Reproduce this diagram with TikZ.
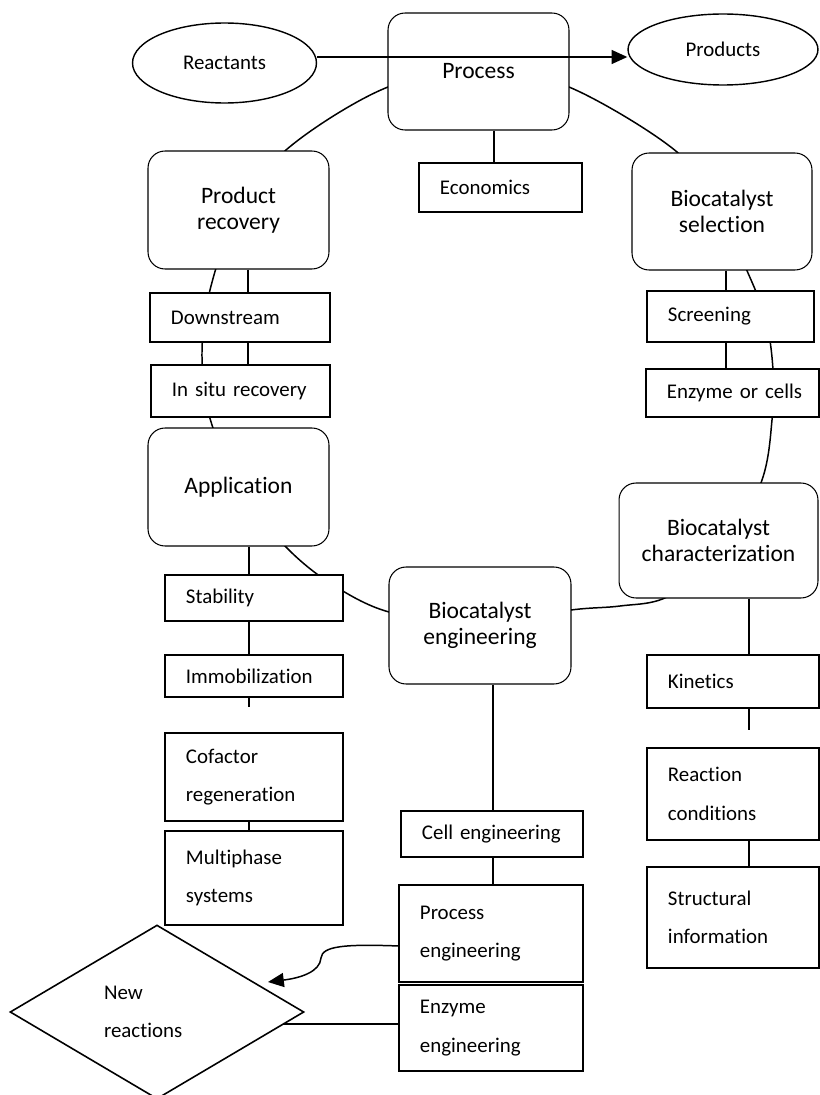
\documentclass[tikz,border=0pt]{standalone}
\usepackage{fontspec}
\setmainfont{Carlito}[Ligatures={NoCommon}]
\usetikzlibrary{shapes.geometric,arrows.meta,calc,backgrounds}
\begin{document}
\begin{tikzpicture}[x=0.02cm,y=-0.02cm,
  bigf/.style={font=\fontsize{13.4}{14.8}\selectfont},
  smf/.style={font=\fontsize{11.9}{22}\selectfont},
  rbox/.style={draw, line width=0.6pt, rounded corners=0.34cm, fill=white, align=center, bigf, inner sep=0pt},
  sbox/.style={draw, line width=1.1pt, fill=white, anchor=north west, align=left, smf, inner xsep=0.42cm, inner ysep=0pt},
  oval/.style={draw, ellipse, line width=0.8pt, fill=white, smf, inner sep=0pt},
  conn/.style={line width=0.85pt},
  tip/.style={-{Triangle[length=9pt,width=8pt]}}
]
\useasboundingbox (0,0) rectangle (819,1095);

% ellipses
\node[oval, minimum width=3.68cm, minimum height=1.6cm] (re) at (224.5,63) {Reactants};
\node[oval, minimum width=3.80cm, minimum height=1.42cm] (pr) at (723,49.5) {Products};

% rounded boxes
\node[rbox, minimum width=3.62cm, minimum height=2.34cm] (proc) at (478.5,71.5) {Process};
\node[rbox, minimum width=3.62cm, minimum height=2.36cm] (prodrec) at (238.5,210) {Product\\recovery};
\node[rbox, minimum width=3.60cm, minimum height=2.34cm] (biosel) at (722,211.5) {Biocatalyst\\selection};
\node[rbox, minimum width=3.62cm, minimum height=2.36cm] (app) at (238.5,487) {Application};
\node[rbox, minimum width=3.64cm, minimum height=2.34cm] (bioeng) at (480,625.5) {Biocatalyst\\engineering};
\node[rbox, minimum width=3.98cm, minimum height=2.30cm] (biochar) at (718.5,540.5) {Biocatalyst\\characterization};

% rectangles
\node[sbox, text width=2.42cm, minimum height=0.98cm] (econ) at (418,162) {Economics};
\node[sbox, text width=2.76cm, minimum height=0.98cm] (down) at (149,292) {Downstream};
\node[sbox, text width=2.74cm, minimum height=1.04cm] (insitu) at (150,364) {\mbox{In situ recovery}};
\node[sbox, text width=2.50cm, minimum height=1.02cm] (screen) at (646,290) {Screening};
\node[sbox, text width=2.62cm, minimum height=0.96cm] (enzcell) at (645,368) {\mbox{Enzyme or cells}};
\node[sbox, text width=2.72cm, minimum height=0.92cm] (stab) at (164,574) {Stability};
\node[sbox, text width=2.72cm, minimum height=0.84cm] (immob) at (164,654) {Immobilization};
\node[sbox, text width=2.72cm, minimum height=1.76cm] (cofac) at (164,732) {Cofactor\\regeneration};
\node[sbox, text width=2.72cm, minimum height=1.88cm] (multi) at (164,830) {Multiphase\\systems};
\node[sbox, text width=2.80cm, minimum height=0.92cm] (cell) at (400,810) {\mbox{Cell engineering}};
\node[sbox, text width=2.84cm, minimum height=1.94cm] (proceng) at (398,884) {Process\\engineering};
\node[sbox, text width=2.84cm, minimum height=1.72cm] (enzeng) at (398,984) {Enzyme\\engineering};
\node[sbox, text width=2.60cm, minimum height=1.06cm] (kin) at (646,654) {Kinetics};
\node[sbox, text width=2.60cm, minimum height=1.84cm] (reacond) at (646,747) {Reaction\\conditions};
\node[sbox, text width=2.60cm, minimum height=2.02cm] (struct) at (646,866) {Structural\\information};

% diamond
\node[draw, diamond, aspect=1.7, line width=0.9pt, fill=white, smf, align=left, text width=2.12cm,
      minimum width=5.88cm, minimum height=3.48cm, inner sep=2pt] (nr) at (157,1012) {New\\reactions};

% helper coordinates
\coordinate (xEc) at (494,0);
\coordinate (xPR) at (248,0);
\coordinate (xL) at (249,0);
\coordinate (xS) at (726,0);
\coordinate (xK) at (749,0);
\coordinate (xE) at (493,0);
\coordinate (immstub) at (249,707);
\coordinate (kinstub) at (749,730);
\coordinate (arrY) at (0,57);
\coordinate (nrtip) at (268,982);
\coordinate (peL) at ([yshift=-0.25cm]proceng.west);
\coordinate (eeL) at ([yshift=0.08cm]enzeng.west);

\begin{pgfonlayer}{background}
  % the cycle
  \draw[conn] plot[smooth cycle, tension=0.55] coordinates {
    (485,72) (388,87) (286,150) (235,220) (210,290) (202,352) (209,415)
    (240,490) (285,546) (330,583) (389,612) (480,624) (571,610) (620,606)
    (667,597) (725,555) (762,480) (772,420) (773,370) (766,320) (748,273)
    (720,215) (677,152) (569,87)};
  % vertical links
  \draw[conn] (proc.south -| xEc) -- (econ.north -| xEc);
  \draw[conn] (prodrec.south -| xPR) -- (down.north -| xPR);
  \draw[conn] (down.south -| xPR) -- (insitu.north -| xPR);
  \draw[conn] (app.south -| xL) -- (stab.north -| xL);
  \draw[conn] (stab.south -| xL) -- (immob.north -| xL);
  \draw[conn] (immob.south -| xL) -- (immstub);
  \draw[conn] (cofac.south -| xL) -- (multi.north -| xL);
  \draw[conn] (biosel.south -| xS) -- (screen.north -| xS);
  \draw[conn] (screen.south -| xS) -- (enzcell.north -| xS);
  \draw[conn] (biochar.south -| xK) -- (kin.north -| xK);
  \draw[conn] (kin.south -| xK) -- (kinstub);
  \draw[conn] (reacond.south -| xK) -- (struct.north -| xK);
  \draw[conn] (bioeng.south -| xE) -- (cell.north -| xE);
  \draw[conn] (cell.south -| xE) -- (proceng.north -| xE);
  % to new reactions
  \draw[conn, tip] (peL) .. controls (345,944) and (322,946) .. (321,958)
                        .. controls (320,972) and (300,978) .. (nrtip);
  \draw[conn] (eeL) -- (eeL -| nr.center);
\end{pgfonlayer}

% main reaction arrow over the process box
\draw[conn, tip] (re.east |- arrY) -- (pr.west |- arrY);
\end{tikzpicture}
\end{document}
